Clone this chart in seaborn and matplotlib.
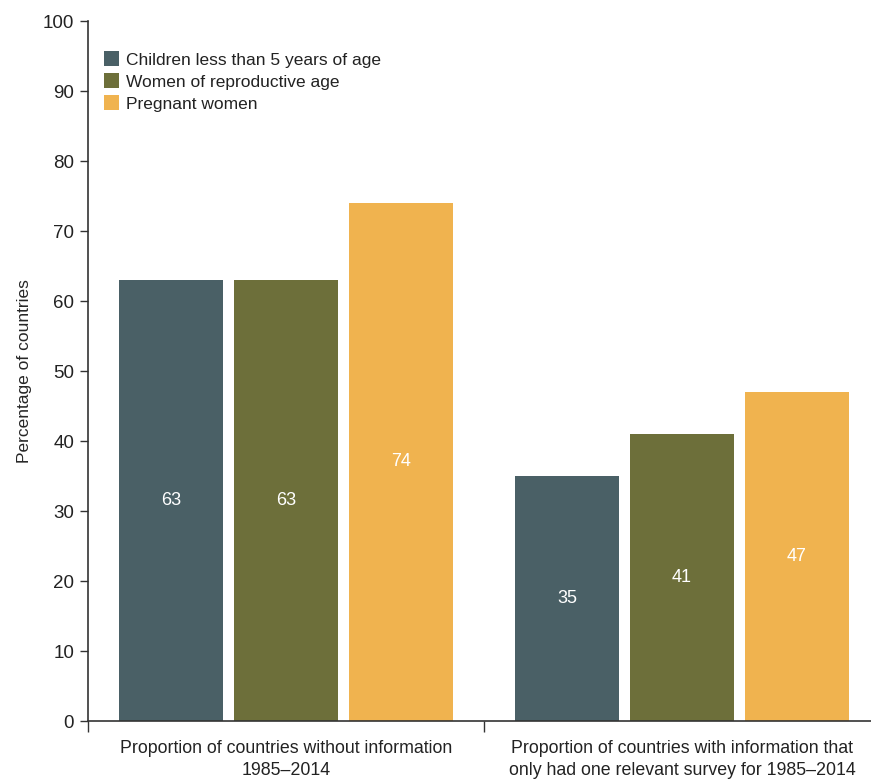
import matplotlib
matplotlib.use("Agg")
import matplotlib.pyplot as plt
import seaborn as sns
import pandas as pd

# data
groups = ["Proportion of countries without information\n1985\u20132014",
          "Proportion of countries with information that\nonly had one relevant survey for 1985\u20132014"]
series = ["Children less than 5 years of age", "Women of reproductive age", "Pregnant women"]
children = [63, 35]
women = [63, 41]
pregnant = [74, 47]
colors = ["#4a6066", "#6d6f3a", "#f0b34f"]

rows = []
for name, vals in zip(series, [children, women, pregnant]):
    for g, v in zip(groups, vals):
        rows.append({"group": g, "series": name, "value": v})
df = pd.DataFrame(rows)

sns.set_style("white")
plt.rcParams["font.family"] = ["Liberation Sans", "DejaVu Sans"]
plt.rcParams["text.color"] = "#222222"
plt.rcParams["xtick.color"] = "#222222"
plt.rcParams["ytick.color"] = "#222222"

fig = plt.figure(figsize=(8.71, 7.8), dpi=100)
ax = fig.add_axes([88 / 871, 59 / 780, 792 / 871, 700 / 780])

sns.barplot(data=df, x="group", y="value", hue="series", hue_order=series,
            palette=colors, width=0.87, gap=0.09, saturation=1,
            edgecolor="none", linewidth=0, ax=ax)

for cont in ax.containers:
    ax.bar_label(cont, label_type="center", color="white", fontsize=13)

ax.set_ylim(0, 100)
ax.set_xlim(-0.5, 1.5)
ax.set_yticks(range(0, 101, 10))
ax.set_ylabel("Percentage of countries", fontsize=12.5, labelpad=8)
ax.set_xlabel("")

ax.set_xticks([0, 1])
ax.set_xticklabels(groups, fontsize=12.8, linespacing=1.35)
ax.set_xticks([-0.5, 0.5, 1.5], minor=True)
ax.tick_params(axis="x", which="major", bottom=False, length=0, pad=14)
ax.tick_params(axis="x", which="minor", bottom=True, length=8, width=1, color="#333333")
ax.tick_params(axis="y", left=True, length=6, width=1, color="#333333", labelsize=13.5, pad=4)

for s in ["top", "right"]:
    ax.spines[s].set_visible(False)
for s in ["left", "bottom"]:
    ax.spines[s].set_color("#333333")
    ax.spines[s].set_linewidth(1.2)

leg = ax.legend(loc="upper left", bbox_to_anchor=(0.02, 0.957), frameon=False,
                fontsize=12.5, handlelength=0.85, handleheight=0.95,
                handletextpad=0.45, labelspacing=0.32, borderaxespad=0,
                borderpad=0)

fig.savefig("out.png", dpi=100)
